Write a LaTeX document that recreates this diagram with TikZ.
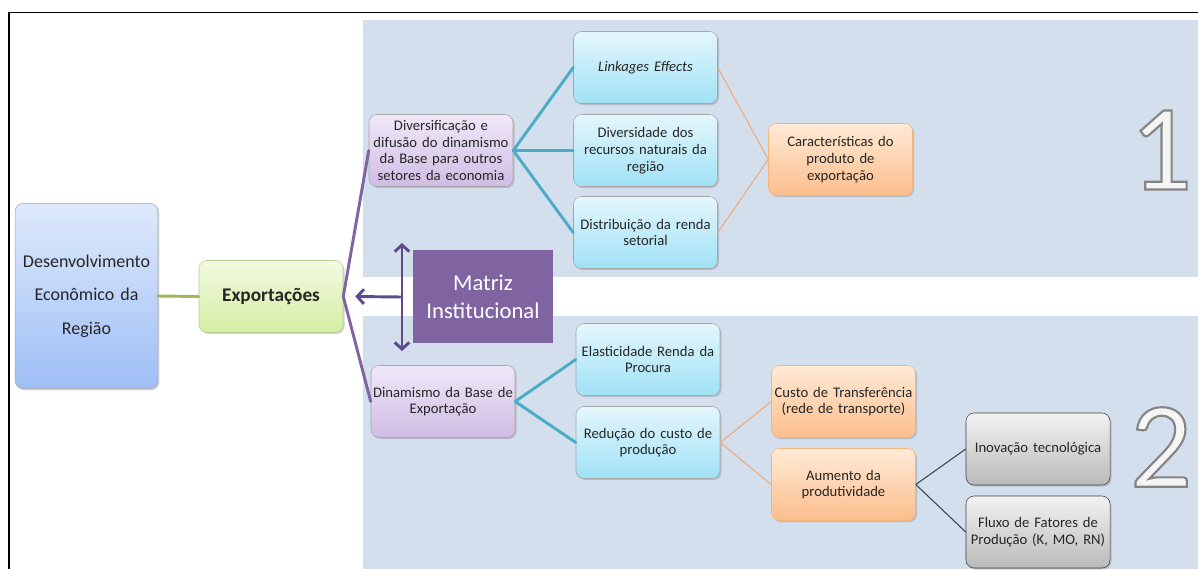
\documentclass[tikz,border=0pt]{standalone}
\usepackage{fontspec}
\setmainfont{Carlito}
\usepackage{xcolor}
\usepackage{tikz}
\usetikzlibrary{arrows.meta, shadows}

\definecolor{faixa}{RGB}{212,223,238}
\definecolor{roxo}{RGB}{128,100,162}
\definecolor{roxoEsc}{RGB}{95,75,139}
\definecolor{verde}{RGB}{155,187,89}
\definecolor{azulLinha}{RGB}{75,172,198}
\definecolor{laranja}{RGB}{240,170,120}
\definecolor{cinzaLinha}{RGB}{60,70,80}

% algarismo com contorno (modo de texto 2: preenche e contorna)
\newcommand{\algcontorno}[1]{%
  \special{pdf:literal direct 2 Tr 1.6 w 0.52 G}#1\special{pdf:literal direct 0 Tr}}

\tikzset{
  caixa/.style={draw=black!35, rounded corners=6pt, minimum width=108pt,
    minimum height=54pt, text width=105pt, inner sep=1pt, align=center,
    text=black!85, font=\fontsize{11}{12.5}\selectfont,
    drop shadow={opacity=0.35, shadow xshift=1.2pt, shadow yshift=-1.2pt}},
  lilas/.style={caixa, top color={rgb,255:red,240;green,232;blue,248},
    bottom color={rgb,255:red,208;green,188;blue,228}},
  celeste/.style={caixa, top color={rgb,255:red,228;green,246;blue,252},
    bottom color={rgb,255:red,160;green,226;blue,246}},
  pessego/.style={caixa, draw={rgb,255:red,245;green,180;blue,120},
    top color={rgb,255:red,255;green,234;blue,214},
    bottom color={rgb,255:red,252;green,190;blue,140}},
  prata/.style={caixa, draw=black!75, top color=black!5, bottom color=black!27},
  numero/.style={font=\fontsize{92}{92}\selectfont, inner sep=0pt, text=black!4},
  ramo/.style={line width=2.2pt, line cap=round},
  fio/.style={line width=0.8pt}
}

\begin{document}
\begin{tikzpicture}[x=0.75pt, y=-0.75pt, >={Straight Barb[length=5pt, width=11pt]}]
  \useasboundingbox (0,0) rectangle (1198,569);

  % 1. Moldura e faixas de fundo
  \fill[faixa] (363,20) rectangle (1198,277);
  \fill[faixa] (363,316) rectangle (1198,569);
  \draw[line width=1.2pt] (9,569) -- (9,12.5) -- (1198,12.5);

  % 2. Caixas principais
  \node[caixa, minimum width=107pt, minimum height=139pt, text width=104pt,
        top color={rgb,255:red,222;green,234;blue,252},
        bottom color={rgb,255:red,158;green,190;blue,246},
        font=\fontsize{13.5}{25}\selectfont] (desenv) at (86.5,296)
        {Desenvolvimento\\Econômico da\\Região};
  \node[caixa, draw={rgb,255:red,185;green,205;blue,150},
        top color={rgb,255:red,242;green,250;blue,224},
        bottom color={rgb,255:red,212;green,238;blue,164},
        font=\fontsize{14.5}{16}\selectfont\bfseries] (expo) at (271,296.5)
        {Exportações};
  \node[fill=roxo, minimum width=105pt, minimum height=70pt, text=white,
        align=center, font=\fontsize{17}{21}\selectfont] (matriz) at (483,296.5)
        {Matriz\\Institucional};

  % 3. Ramo 1
  \node[lilas] (divers) at (441,150.5)
        {Diversificação e\\difusão do dinamismo\\da Base para outros\\setores da economia};
  \node[celeste] (link) at (645.5,67.5) {\itshape Linkages Effects};
  \node[celeste] (recursos) at (645.5,150.5)
        {Diversidade dos\\recursos naturais da\\região};
  \node[celeste] (renda) at (645.5,232.5) {Distribuição da renda\\setorial};
  \node[pessego] (caract) at (840.5,159.5)
        {Características do\\produto de\\exportação};

  % 4. Ramo 2
  \node[lilas] (dinam) at (443,401.5) {Dinamismo da Base de\\Exportação};
  \node[celeste] (elast) at (648,359.5) {Elasticidade Renda da\\Procura};
  \node[celeste] (reduc) at (648,442.5) {Redução do custo de\\produção};
  \node[pessego] (custo) at (843.5,401.5)
        {Custo de Transferência\\(rede de transporte)};
  \node[pessego] (aumento) at (843.5,484.5) {Aumento da\\produtividade};
  \node[prata] (inov) at (1038,449) {Inovação tecnológica};
  \node[prata] (fluxo) at (1038,532) {Fluxo de Fatores de\\Produção (K, MO, RN)};

  % 5. Numeração
  \node[numero] (num1) at (1161,150) {\algcontorno{1}};
  \node[numero] (num2) at (1161,447) {\algcontorno{2}};

  % 6. Ligações
  \draw[ramo, verde] (desenv.east) -- (expo.west);
  \draw[ramo, roxo] (expo.east) -- (divers.west);
  \draw[ramo, roxo] (expo.east) -- (dinam.west);
  \foreach \alvo in {link, recursos, renda}
      \draw[ramo, azulLinha] (divers.east) -- (\alvo.west);
  \foreach \alvo in {elast, reduc}
      \draw[ramo, azulLinha] (dinam.east) -- (\alvo.west);
  \draw[fio, laranja] (link.east) -- (caract.west);
  \draw[fio, laranja] (renda.east) -- (caract.west);
  \draw[fio, laranja] (reduc.east) -- (custo.west);
  \draw[fio, laranja] (reduc.east) -- (aumento.west);
  \draw[fio, cinzaLinha] (aumento.east) -- (inov.west);
  \draw[fio, cinzaLinha] (aumento.east) -- (fluxo.west);

  % 7. Setas da matriz institucional
  \coordinate (cruz) at (402,297);
  \coordinate (setaC) at (402,243);
  \coordinate (setaB) at (402,351);
  \draw[->, line width=2.2pt, roxoEsc] (cruz) -- ([xshift=9pt]expo.east);
  \draw[<->, line width=2.2pt, roxoEsc] (setaC) -- (setaB);
\end{tikzpicture}
\end{document}
